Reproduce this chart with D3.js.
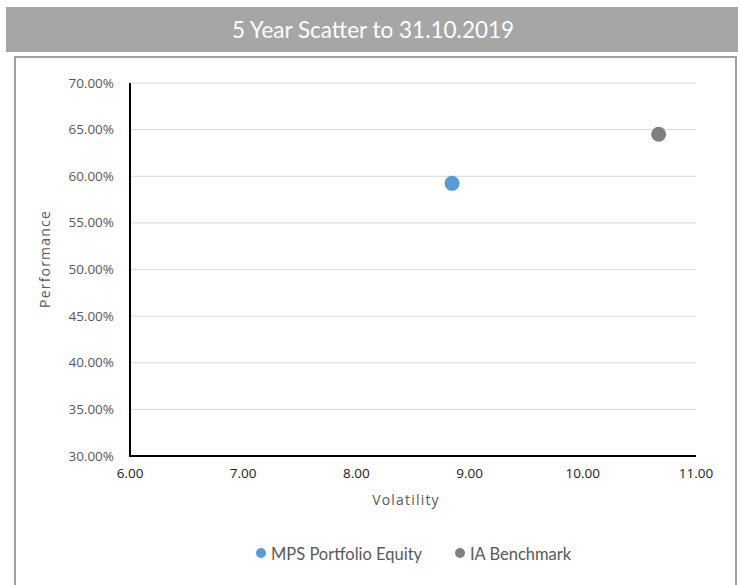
<!DOCTYPE html>
<html>
<head>
<meta charset="utf-8">
<script src="https://cdn.jsdelivr.net/npm/d3@7"></script>
<style>
  body { margin: 0; background: #fff; }
  svg { display: block; }
</style>
</head>
<body>
<div id="chart"></div>
<script>
'use strict';

const seriesNames = ['MPS Portfolio Equity', 'IA Benchmark'];
const volatility = [8.845, 10.67];
const performance = [0.5924, 0.6450];
const seriesColors = ['#5b9bd5', '#808080'];
const xTicks = [6, 7, 8, 9, 10, 11];
const yTicks = [0.30, 0.35, 0.40, 0.45, 0.50, 0.55, 0.60, 0.65, 0.70];

const width = 740, height = 585;
const margin = { top: 83, right: 44, bottom: 129, left: 130 };

let svg = d3.select('#chart')
  .append('svg')
    .attr('width', width)
    .attr('height', height);

// title bar
svg.append('rect')
  .attr('x', 6).attr('y', 7)
  .attr('width', 732).attr('height', 45)
  .attr('fill', '#a6a6a6');

svg.append('text')
  .attr('x', 373).attr('y', 38)
  .attr('text-anchor', 'middle')
  .attr('fill', '#fff')
  .style('font-family', 'Lato, sans-serif')
  .style('font-size', '22.5px')
  .text('5 Year Scatter to 31.10.2019');

// chart border
svg.append('rect')
  .attr('x', 15).attr('y', 57)
  .attr('width', 721).attr('height', 540)
  .attr('fill', 'none')
  .attr('stroke', '#a0a0a0')
  .attr('stroke-width', 2);

let x = d3.scaleLinear()
  .domain([6, 11])
  .range([margin.left, width - margin.right]);

let y = d3.scaleLinear()
  .domain([0.30, 0.70])
  .range([height - margin.bottom, margin.top]);

// gridlines
svg.append('g')
  .selectAll('line')
  .data(yTicks)
  .enter().append('line')
    .attr('x1', x(6)).attr('x2', x(11))
    .attr('y1', d => y(d)).attr('y2', d => y(d))
    .attr('stroke', '#d9d9d9')
    .attr('stroke-width', 1);

// y axis labels
svg.append('g')
  .selectAll('text')
  .data(yTicks)
  .enter().append('text')
    .attr('x', 114)
    .attr('y', d => y(d) + 4.5)
    .attr('text-anchor', 'end')
    .attr('fill', '#595959')
    .style('font-family', '"Open Sans", sans-serif')
    .style('font-size', '13.5px')
    .text(d => d3.format('.2%')(d));

// x axis labels
svg.append('g')
  .selectAll('text')
  .data(xTicks)
  .enter().append('text')
    .attr('x', d => x(d))
    .attr('y', y(0.30) + 22)
    .attr('text-anchor', 'middle')
    .attr('fill', '#222')
    .style('font-family', '"Open Sans", sans-serif')
    .style('font-size', '13.5px')
    .text(d => d3.format('.2f')(d));

// axis lines
svg.append('line')
  .attr('x1', x(6)).attr('x2', x(6))
  .attr('y1', y(0.70)).attr('y2', y(0.30))
  .attr('stroke', '#000').attr('stroke-width', 2);

svg.append('line')
  .attr('x1', x(6) - 1).attr('x2', x(11))
  .attr('y1', y(0.30)).attr('y2', y(0.30))
  .attr('stroke', '#000').attr('stroke-width', 2);

// axis titles
svg.append('text')
  .attr('x', 406).attr('y', 505)
  .attr('text-anchor', 'middle')
  .attr('fill', '#595959')
  .style('font-family', '"Open Sans", sans-serif')
  .style('font-size', '14px')
  .style('letter-spacing', '1.2px')
  .text('Volatility');

svg.append('text')
  .attr('transform', 'translate(50,259) rotate(-90)')
  .attr('text-anchor', 'middle')
  .attr('fill', '#595959')
  .style('font-family', '"Open Sans", sans-serif')
  .style('font-size', '14px')
  .style('letter-spacing', '1.2px')
  .text('Performance');

// points
let points = seriesNames.map((c, i) => ({ name: c, v: volatility[i], p: performance[i], color: seriesColors[i] }));

svg.append('g')
  .selectAll('circle')
  .data(points)
  .enter().append('circle')
    .attr('cx', d => x(d.v))
    .attr('cy', d => y(d.p))
    .attr('r', 7.5)
    .attr('fill', d => d.color);

// legend
let legendX = [261, 460];
let legend = svg.append('g')
  .selectAll('g')
  .data(points)
  .enter().append('g')
    .attr('transform', (d, i) => 'translate(' + legendX[i] + ',553)');

legend.append('circle')
  .attr('cx', 0).attr('cy', 0)
  .attr('r', 5)
  .attr('fill', d => d.color);

legend.append('text')
  .attr('x', 10).attr('y', 6.5)
  .attr('fill', '#595959')
  .style('font-family', 'Lato, sans-serif')
  .style('font-size', '16.5px')
  .text(d => d.name);
</script>
</body>
</html>
